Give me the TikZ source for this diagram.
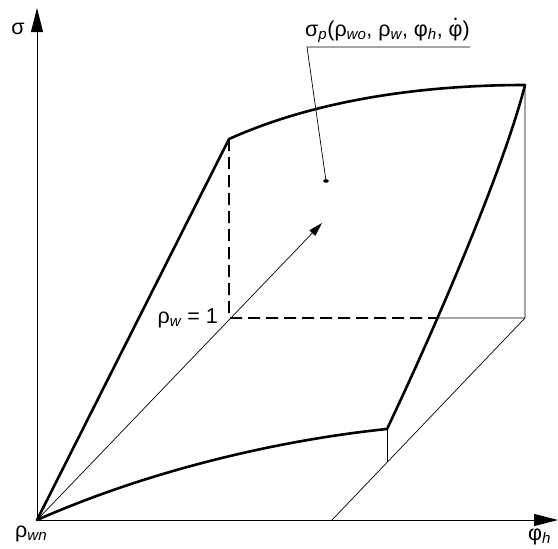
\documentclass[tikz,border=0pt]{standalone}
\usepackage{fontspec}
\setmainfont{Liberation Sans}
\usetikzlibrary{arrows.meta,positioning,intersections}
\tikzset{
    axisline/.style={-{Triangle[length=24pt,width=12pt]}, line width=0.9pt},
    surfedge/.style={line width=2.6pt, line join=round, line cap=round},
    thinline/.style={line width=0.7pt},
    hiddenline/.style={line width=1.6pt, dash pattern=on 12pt off 6pt},
    lbl/.style={inner sep=0pt, font=\fontsize{21.5}{25}\selectfont},
}
\newcommand{\idx}[1]{\textsubscript{\itshape #1}}
\newcommand{\phidot}{\ooalign{φ\cr\hfil\raisebox{0.7em}{.}\hfil\cr}}

\begin{document}
\begin{tikzpicture}[x=1pt,y=-1pt]
  \useasboundingbox (0,0) rectangle (558,549);
  % corner points of the surface
  \coordinate (O) at (37,520);
  \coordinate (A) at (229,139);
  \coordinate (B) at (525,85);
  \coordinate (C) at (387,429);
  \coordinate (R) at (229,318);
  \coordinate (RB) at (525,318);
  \coordinate (Q) at (332,520);
  \coordinate (Cd) at (387,462);
  \coordinate (Ytip) at (37,8);
  \coordinate (Xtip) at (558,520);
  \coordinate (Dir) at (322,223);
  \coordinate (P) at (326,181);
  \coordinate (L1) at (307,47);
  % AXES
  \draw[axisline] (O) -- (Ytip);
  \draw[axisline] (O) -- (Xtip);
  % thick edges of the surface
  \draw[surfedge] (O) -- (A);
  \draw[surfedge] (A) .. controls (320,98) and (430,85) .. (B);
  \draw[surfedge, name path=rightedge] (B) .. controls (504,168) and (436,326) .. (C);
  \draw[surfedge] (O) .. controls (150,470) and (280,440) .. (C);
  % base plane and projections
  \path[name path=level] (R) -- (RB);
  \path[name intersections={of=rightedge and level, by=X}];
  \draw[hiddenline] (A) -- (R) -- (X);
  \draw[thinline] (X) -- (RB);
  \draw[thinline] (B) -- (RB) -- (Q);
  \draw[thinline] (C) -- (Cd);
  \draw[thinline, -{Triangle[length=14pt,width=8pt]}] (O) -- (Dir);
  % point on the surface
  \fill (P) ellipse (2.8 and 1.8);
  % LABELS
  \node[lbl] (sig) at (18,29) {σ};
  \node[lbl, anchor=base west] (rwn) at (15,537) {ρ\idx{wn}};
  \node[lbl, anchor=base west] (phih) at (528,540) {φ\idx{h}};
  \node[lbl, anchor=base east] (rw1) at (218,323) {ρ\idx{w} = 1};
  \node[lbl, anchor=base west] (sigp) at (305,36)
    {σ\idx{p}(ρ\idx{wo}, ρ\idx{w}, φ\idx{h}, \phidot)};
  \draw[thinline] (P) -- (L1) -- (L1 -| sigp.east);
\end{tikzpicture}
\end{document}
